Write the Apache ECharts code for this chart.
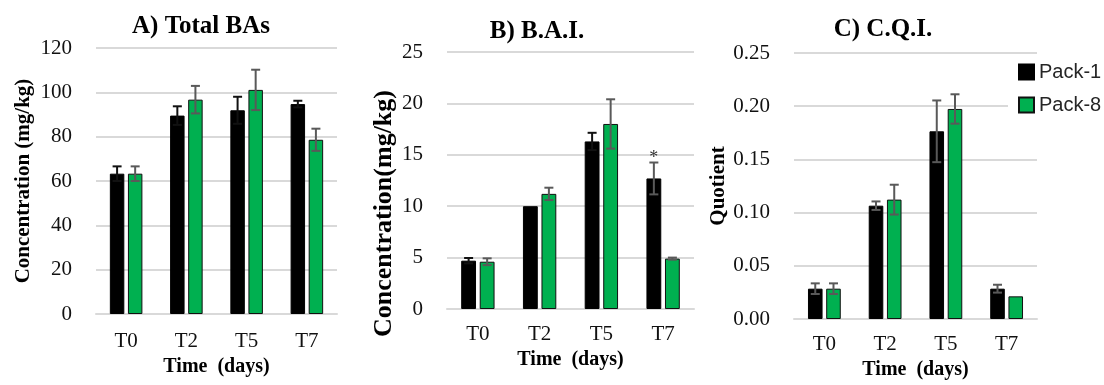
<!DOCTYPE html>
<html>
<head>
<meta charset="utf-8">
<script src="https://cdn.jsdelivr.net/npm/echarts@6/dist/echarts.min.js"></script>
<style>html,body{margin:0;padding:0;background:#fff}#c{width:1104px;height:385px}</style>
</head>
<body>
<div id="c"></div>
<script>
// ---- data ----
const categories = ['T0', 'T2', 'T5', 'T7'];
const seriesNames = ['Pack-1', 'Pack-8'];

const totalPack1 = [63.3, 89.5, 91.9, 94.7];
const totalPack1Err = [3.3, 4.2, 6.1, 1.5];
const totalPack8 = [63.3, 96.7, 101.1, 78.6];
const totalPack8Err = [3.3, 6.2, 9.1, 5.0];

const baiPack1 = [4.7, 10.0, 16.3, 12.7];
const baiPack1Err = [0.26, 0, 0.84, 1.55];
const baiPack1Sig = ['', '', '', '*'];
const baiPack8 = [4.6, 11.2, 18.0, 4.9];
const baiPack8Err = [0.33, 0.6, 2.4, 0.1];

const cqiPack1 = [0.0285, 0.1065, 0.1764, 0.0285];
const cqiPack1Err = [0.005, 0.004, 0.029, 0.0037];
const cqiPack8 = [0.0285, 0.1122, 0.1974, 0.0213];
const cqiPack8Err = [0.005, 0.014, 0.0138, 0];

const titles = ['A) Total BAs', 'B) B.A.I.', 'C) C.Q.I.'];
const yNames = ['Concentration (mg/kg)', 'Concentration(mg/kg)', 'Quotient'];
const xName = 'Time  (days)';
const yMax = [120, 25, 0.25];
const yInterval = [20, 5, 0.05];

// ---- styles ----
const SERIF = '"Liberation Serif", "Times New Roman", serif';
const BLACK = '#000000', GREEN = '#00B050', ERR = '#595959';
const BAR_W = 0.24, BAR_GAP = 0.25;

const panels = [
  {p1: totalPack1, e1: totalPack1Err, p8: totalPack8, e8: totalPack8Err, sig: null,
   errC1: ['#111', '#111', '#111', '#111']},
  {p1: baiPack1, e1: baiPack1Err, p8: baiPack8, e8: baiPack8Err, sig: baiPack1Sig,
   errC1: ['#111', '#111', '#111', ERR]},
  {p1: cqiPack1, e1: cqiPack1Err, p8: cqiPack8, e8: cqiPack8Err, sig: null,
   errC1: [ERR, ERR, ERR, ERR]}
];

const grids = [
  {left: 96, top: 48, width: 241, height: 266},
  {left: 447, top: 52, width: 247, height: 257},
  {left: 794, top: 53, width: 243, height: 266}
];
const labelMargins = [17, 15, 15];
const xNameGaps = [34, 39, 37];
const yNameGaps = [62, 50, 64];
const yNameSizes = [21, 26, 21];
const yNamePad = [[0, 0, 0, 0], [0, 66, 0, 0], [0, 0, 0, 0]];
const titlePos = [{left: 201, top: 14}, {left: 537, top: 19}, {left: 883, top: 17}];

function errRender(sign, colors, sig) {
  return function (params, api) {
    const i = api.value(0), v = api.value(1), e = api.value(2);
    const band = api.size([1, 0])[0];
    const w = band * BAR_W;
    const off = sign * (w + w * BAR_GAP) / 2;
    const p = api.coord([i, v]);
    const x = p[0] + off;
    const yt = api.coord([i, v + e])[1];
    const yb = api.coord([i, v - e])[1];
    const color = colors ? colors[params.dataIndex] : ERR;
    const st = {stroke: color, lineWidth: 2};
    const cap = 4.5;
    const children = [];
    if (e > 0) {
      children.push({type: 'line', shape: {x1: x, y1: yt, x2: x, y2: yb}, style: st});
      children.push({type: 'line', shape: {x1: x - cap, y1: yt, x2: x + cap, y2: yt}, style: st});
      children.push({type: 'line', shape: {x1: x - cap, y1: yb, x2: x + cap, y2: yb}, style: st});
    }
    if (sig && sig[params.dataIndex]) {
      children.push({type: 'text', style: {text: sig[params.dataIndex], x: x, y: yt - 4,
        align: 'center', verticalAlign: 'middle', fontSize: 18, fontFamily: SERIF, fill: '#333'}});
    }
    return {type: 'group', children: children};
  };
}

const option = {
  animation: false,
  backgroundColor: '#fff',
  title: titles.map((t, k) => ({
    text: t, left: titlePos[k].left, top: titlePos[k].top, textAlign: 'center', padding: 0,
    textStyle: {fontFamily: SERIF, fontSize: 25, fontWeight: 'bold', color: '#000'}
  })),
  legend: {
    data: seriesNames, orient: 'vertical', left: 1008, top: 56,
    itemWidth: 15, itemHeight: 15, itemGap: 13, icon: 'rect',
    padding: [6, 2, 6, 10], backgroundColor: '#fff',
    textStyle: {fontFamily: '"Liberation Sans", Arial, sans-serif', fontSize: 20, color: '#262626'}
  },
  grid: grids,
  xAxis: grids.map((g, k) => ({
    type: 'category', gridIndex: k, data: categories,
    name: xName, nameLocation: 'middle', nameGap: xNameGaps[k],
    nameTextStyle: {fontFamily: SERIF, fontSize: 20, fontWeight: 'bold', color: '#000'},
    axisLine: {lineStyle: {color: '#d9d9d9', width: 2}},
    axisTick: {show: false},
    axisLabel: {fontFamily: SERIF, fontSize: 21, color: '#111', margin: labelMargins[k]}
  })),
  yAxis: grids.map((g, k) => ({
    type: 'value', gridIndex: k, min: 0, max: yMax[k], interval: yInterval[k],
    name: yNames[k], nameLocation: 'middle', nameGap: yNameGaps[k],
    nameTextStyle: {fontFamily: SERIF, fontSize: yNameSizes[k], fontWeight: 'bold', color: '#000',
      padding: yNamePad[k]},
    axisLine: {show: false}, axisTick: {show: false},
    splitLine: {lineStyle: {color: '#d9d9d9', width: 2}},
    axisLabel: {fontFamily: SERIF, fontSize: 21, color: '#111', margin: 24,
      formatter: k === 2 ? (v => v.toFixed(2)) : (v => String(v))}
  })),
  series: []
};

panels.forEach((pn, k) => {
  option.series.push({
    name: 'Pack-1', type: 'bar', xAxisIndex: k, yAxisIndex: k, data: pn.p1,
    barWidth: (BAR_W * 100) + '%', barGap: (BAR_GAP * 100) + '%',
    itemStyle: {color: BLACK, borderColor: '#000', borderWidth: 1}
  });
  option.series.push({
    name: 'Pack-8', type: 'bar', xAxisIndex: k, yAxisIndex: k, data: pn.p8,
    barWidth: (BAR_W * 100) + '%', barGap: (BAR_GAP * 100) + '%',
    itemStyle: {color: GREEN, borderColor: '#111', borderWidth: 1}
  });
  option.series.push({
    type: 'custom', xAxisIndex: k, yAxisIndex: k, z: 5, silent: true,
    renderItem: errRender(-1, pn.errC1, pn.sig),
    encode: {x: 0, y: 1},
    data: pn.p1.map((v, i) => [i, v, pn.e1[i]])
  });
  option.series.push({
    type: 'custom', xAxisIndex: k, yAxisIndex: k, z: 5, silent: true,
    renderItem: errRender(1, null, null),
    encode: {x: 0, y: 1},
    data: pn.p8.map((v, i) => [i, v, pn.e8[i]])
  });
});

const chart = echarts.init(document.getElementById('c'), null, {renderer: 'canvas'});
chart.setOption(option);
</script>
</body>
</html>
